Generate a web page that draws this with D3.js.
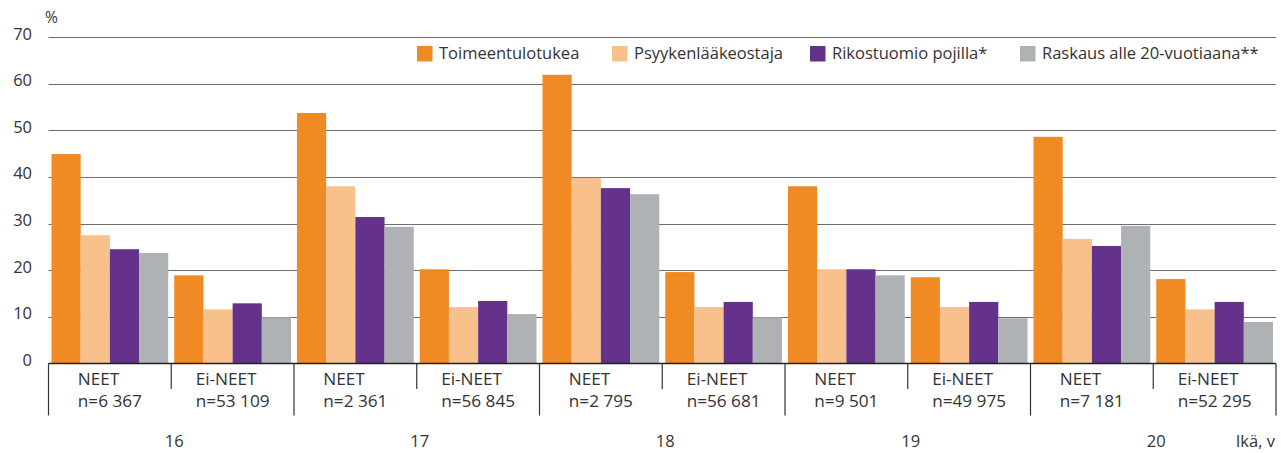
<!DOCTYPE html>
<html>
<head>
<meta charset="utf-8">
<script src="https://cdn.jsdelivr.net/npm/d3@7"></script>
<style>
  html, body { margin: 0; padding: 0; background: #fff; }
  svg { display: block; }
  text { font-family: "Open Sans", "Noto Sans", sans-serif; fill: #333; }
</style>
</head>
<body>
<svg id="chart" width="1281" height="453"></svg>
<script>
const ages = ["16", "17", "18", "19", "20"];
const groups = ["NEET", "Ei-NEET"];
const sampleSizes = [
  ["n=6 367", "n=53 109"],
  ["n=2 361", "n=56 845"],
  ["n=2 795", "n=56 681"],
  ["n=9 501", "n=49 975"],
  ["n=7 181", "n=52 295"]
];
const series = ["Toimeentulotukea", "Psyykenlääkeostaja", "Rikostuomio pojilla*", "Raskaus alle 20-vuotiaana**"];
const colors = ["#f08a24", "#f8c08a", "#64328a", "#afb2b5"];
// values per age: [NEET, Ei-NEET]
const toimeentulotukea   = [[44.9, 18.9], [53.7, 20.2], [61.9, 19.6], [38.0, 18.5], [48.6, 18.1]];
const psyykenlaakeostaja = [[27.5, 11.6], [38.0, 12.1], [39.8, 12.1], [20.2, 12.1], [26.7, 11.6]];
const rikostuomio        = [[24.5, 12.9], [31.4, 13.4], [37.6, 13.2], [20.2, 13.2], [25.2, 13.2]];
const raskaus            = [[23.7, 9.9], [29.3, 10.6], [36.3, 9.9], [18.9, 9.7], [29.5, 8.9]];
const yTicks = [0, 10, 20, 30, 40, 50, 60, 70];
const yUnit = "%";
const xUnit = "Ikä, v";

const seriesData = [toimeentulotukea, psyykenlaakeostaja, rikostuomio, raskaus];

const svg = d3.select("#chart");
const left = 48.5, right = 1276, y0 = 363.5, yTop = 37;

const y = d3.scaleLinear().domain([0, 70]).range([y0, yTop]);

const cats = [];
ages.forEach((a, i) => groups.forEach((g, j) => cats.push({age: a, ai: i, group: g, gi: j, key: a + "|" + g})));

const x0 = d3.scaleBand().domain(cats.map(c => c.key)).range([left, right]).padding(0);
const bw = x0.bandwidth();
const x1 = d3.scaleBand().domain(series).range([3, bw - 3]).padding(0);
const xAge = d3.scaleBand().domain(ages).range([left, right]);

// gridlines
svg.append("g").selectAll("line")
  .data(yTicks.filter(t => t > 0))
  .join("line")
  .attr("x1", left).attr("x2", right)
  .attr("y1", d => Math.round(y(d)) + 0.5).attr("y2", d => Math.round(y(d)) + 0.5)
  .attr("stroke", "#6e6e6e").attr("stroke-width", 1.2);

// y labels
svg.append("g").selectAll("text")
  .data(yTicks)
  .join("text")
  .attr("x", 32).attr("y", d => y(d) + 2.5)
  .attr("text-anchor", "end")
  .attr("font-size", 16.5)
  .text(d => d);

svg.append("text").attr("x", 45).attr("y", 23).attr("font-size", 15.5).text(yUnit);

// bars
const gCat = svg.append("g").selectAll("g")
  .data(cats)
  .join("g")
  .attr("transform", d => `translate(${x0(d.key)},0)`);

gCat.selectAll("rect")
  .data(c => series.map((s, si) => ({s, si, v: seriesData[si][c.ai][c.gi]})))
  .join("rect")
  .attr("x", d => x1(d.s))
  .attr("width", x1.bandwidth())
  .attr("y", d => y(d.v))
  .attr("height", d => y0 - y(d.v))
  .attr("fill", d => colors[d.si]);

// axis line
svg.append("line").attr("x1", left).attr("x2", right).attr("y1", y0).attr("y2", y0)
  .attr("stroke", "#222").attr("stroke-width", 1.3);

// separators
const sepG = svg.append("g");
ages.forEach((a, i) => {
  sepG.append("line").attr("x1", xAge(a)).attr("x2", xAge(a)).attr("y1", y0).attr("y2", 415.5)
    .attr("stroke", "#333").attr("stroke-width", 1.2);
  const mid = x0(a + "|Ei-NEET");
  sepG.append("line").attr("x1", mid).attr("x2", mid).attr("y1", y0).attr("y2", 389)
    .attr("stroke", "#333").attr("stroke-width", 1.2);
});
sepG.append("line").attr("x1", right).attr("x2", right).attr("y1", y0).attr("y2", 415.5)
  .attr("stroke", "#333").attr("stroke-width", 1.2);

// category labels
const labG = svg.append("g");
cats.forEach(c => {
  const cx = x0(c.key) + bw / 2;
  const t1 = labG.append("text").attr("y", 385).attr("font-size", 17.2).text(c.group);
  const t2 = labG.append("text").attr("y", 407).attr("font-size", 17.2).text(sampleSizes[c.ai][c.gi]);
  const w = Math.max(t1.node().getComputedTextLength(), t2.node().getComputedTextLength());
  const sx = cx - w / 2;
  t1.attr("x", sx); t2.attr("x", sx);
});

// age labels
svg.append("g").selectAll("text")
  .data(ages)
  .join("text")
  .attr("x", d => xAge(d) + xAge.bandwidth() / 2 + 3)
  .attr("y", 447)
  .attr("text-anchor", "middle")
  .attr("font-size", 16.5)
  .text(d => d);

svg.append("text").attr("x", 1275).attr("y", 447).attr("text-anchor", "end")
  .attr("font-size", 16.5).text(xUnit);

// legend
const legendX = [417, 612, 810, 1020];
const lg = svg.append("g");
series.forEach((s, i) => {
  lg.append("rect").attr("x", legendX[i]).attr("y", 46).attr("width", 15.5).attr("height", 15.5).attr("fill", colors[i]);
  lg.append("text").attr("x", legendX[i] + 22).attr("y", 58.5).attr("font-size", 16.5).text(s);
});
</script>
</body>
</html>
